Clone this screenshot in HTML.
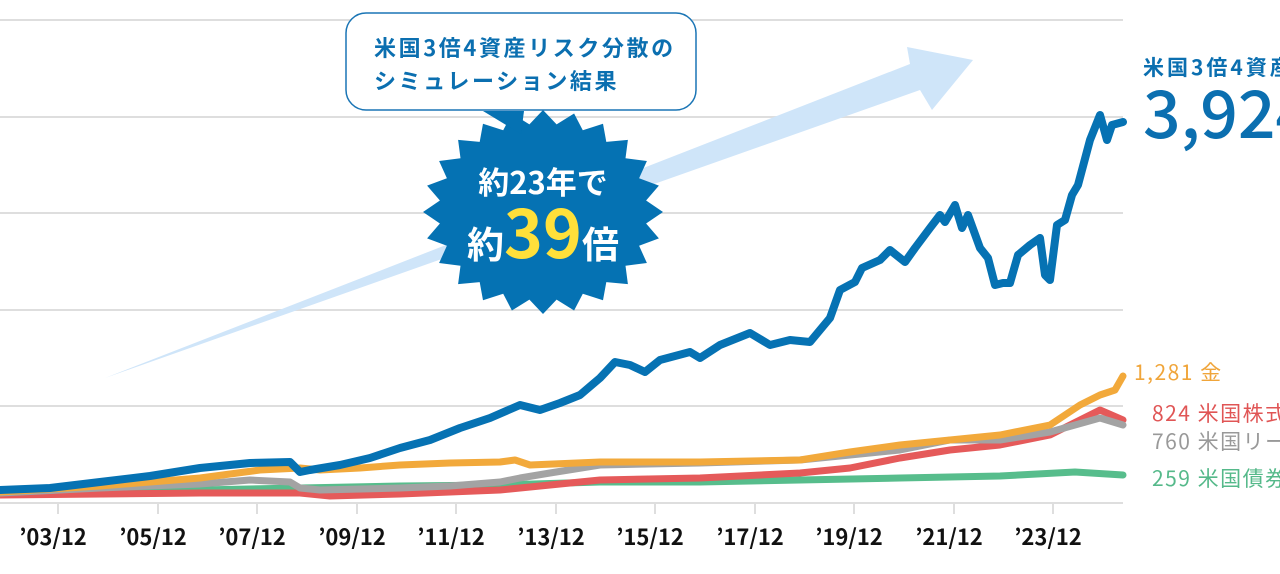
<!DOCTYPE html>
<html><head><meta charset="utf-8"><style>
html,body{margin:0;padding:0;width:1280px;height:574px;overflow:hidden;background:#fff;}
svg{display:block;font-family:"Noto Sans CJK JP","Liberation Sans",sans-serif;}
</style></head><body>
<svg width="1280" height="574" viewBox="0 0 1280 574" xmlns="http://www.w3.org/2000/svg">
<g stroke="#dedede" stroke-width="2">
<line x1="0" y1="20" x2="1123" y2="20"/><line x1="0" y1="117" x2="1123" y2="117"/>
<line x1="0" y1="213" x2="1123" y2="213"/><line x1="0" y1="310" x2="1123" y2="310"/>
<line x1="0" y1="406" x2="1123" y2="406"/><line x1="0" y1="503" x2="1123" y2="503"/>
<line x1="58" y1="503" x2="58" y2="514"/><line x1="158" y1="503" x2="158" y2="514"/>
<line x1="257" y1="503" x2="257" y2="514"/><line x1="357" y1="503" x2="357" y2="514"/>
<line x1="456" y1="503" x2="456" y2="514"/><line x1="556" y1="503" x2="556" y2="514"/>
<line x1="655" y1="503" x2="655" y2="514"/><line x1="755" y1="503" x2="755" y2="514"/>
<line x1="854" y1="503" x2="854" y2="514"/><line x1="954" y1="503" x2="954" y2="514"/>
<line x1="1053" y1="503" x2="1053" y2="514"/>
</g>
<g font-size="22" font-weight="bold" fill="#111" text-anchor="middle">
<text x="53" y="545">’03/12</text><text x="153" y="545">’05/12</text><text x="252" y="545">’07/12</text>
<text x="352" y="545">’09/12</text><text x="451" y="545">’11/12</text><text x="551" y="545">’13/12</text>
<text x="650" y="545">’15/12</text><text x="750" y="545">’17/12</text><text x="849" y="545">’19/12</text>
<text x="949" y="545">’21/12</text><text x="1048" y="545">’23/12</text>
</g>
<polygon points="105,378 910,64 907,47 973,60 932,110 920,90" fill="#cfe5f9"/>
<g fill="none" stroke-linejoin="round" stroke-linecap="round">
<polyline stroke="#57bd8c" stroke-width="7" points="0,492 200,490 300,488 400,486 500,485 600,482 700,482 800,480 900,478 1000,476 1075,472 1123,475"/>
<polyline stroke="#e55a5a" stroke-width="7" points="0,495 200,493 300,493 330,496 400,494 500,490 600,480 700,478 800,473 850,468 900,458 950,450 1000,445 1050,435 1080,420 1100,410 1123,420"/>
<polyline stroke="#a3a3a3" stroke-width="7" points="0,493 100,488 200,484 250,480 290,482 300,488 320,490 400,488 450,486 500,482 520,478 550,473 600,465 700,463 800,460 850,455 900,450 950,440 1000,440 1050,432 1100,418 1123,425"/>
<polyline stroke="#f2a93b" stroke-width="7" points="0,492 100,486 200,478 260,470 300,468 320,470 360,468 400,465 450,463 500,462 515,460 530,465 600,462 700,462 800,460 850,452 900,445 950,440 1000,435 1050,425 1080,405 1100,395 1115,390 1123,376"/>
<polyline stroke="#0672b3" stroke-width="8" points="0,490 50,488 100,482 150,476 200,468 250,463 290,462 300,472 310,470 340,465 370,458 400,448 430,440 460,428 490,418 520,405 540,410 560,403 580,395 600,378 615,362 630,365 645,372 660,360 690,352 700,358 720,345 750,333 770,345 790,340 810,342 830,318 840,290 855,282 862,268 880,260 890,250 905,262 915,248 930,228 940,215 945,222 955,205 962,228 968,215 980,248 988,258 995,285 1003,283 1010,283 1018,255 1030,245 1040,238 1045,275 1050,280 1057,225 1065,220 1072,195 1078,185 1090,140 1100,115 1107,140 1112,125 1123,122"/>
</g>
<polygon fill="#0572b3" points="543,110 556.6,124.4 574.1,113.5 582.8,130.3 603,123.7 606.3,141.9 627.9,139.9 625.5,158.2 646.9,161 639.1,178.2 658.9,185.6 646.1,200.5 663,212 646.1,223.5 658.9,238.4 639.1,245.8 646.9,263 625.5,265.8 627.9,284.1 606.3,282.1 603,300.3 582.8,293.7 574.1,310.5 556.6,299.6 543,314 529.4,299.6 511.9,310.5 503.2,293.7 483,300.3 479.7,282.1 458.1,284.1 460.5,265.8 439.1,263 446.9,245.8 427.1,238.4 439.9,223.5 423,212 439.9,200.5 427.1,185.6 446.9,178.2 439.1,161 460.5,158.2 458.1,139.9 479.7,141.9 483,123.7 503.2,130.3 511.9,113.5 529.4,124.4"/>
<rect x="346" y="13" width="350" height="97" rx="20" fill="#fff" stroke="#1a75b5" stroke-width="1.5"/>
<polygon points="483,111 524,111 521,134" fill="#0572b3"/>
<text x="374" y="56" font-size="22" font-weight="bold" fill="#0b6fb0" letter-spacing="2.6">米国3倍4資産リスク分散の</text>
<text x="374" y="89" font-size="22" font-weight="bold" fill="#0b6fb0" letter-spacing="2.6">シミュレーション結果</text>
<text x="543" y="194" font-size="31" font-weight="bold" fill="#fff" text-anchor="middle">約23年で</text>
<text x="543" y="258" text-anchor="middle" font-weight="bold" fill="#fff"><tspan font-size="37">約</tspan><tspan font-size="66" fill="#ffe03a">39</tspan><tspan font-size="37">倍</tspan></text>
<text x="1143" y="75" font-size="21" font-weight="bold" fill="#0b6fb0" letter-spacing="3">米国3倍4資産</text>
<text x="1143" y="138" font-size="66" font-weight="500" fill="#0b6fb0">3,924</text>
<text x="1134" y="380" font-size="21" fill="#f0a53a" letter-spacing="1.5">1,281 金</text>
<text x="1152" y="421" font-size="21" fill="#e05555" letter-spacing="1.5">824 米国株式</text>
<text x="1152" y="449" font-size="21" fill="#999" letter-spacing="1.5">760 米国リート</text>
<text x="1152" y="486" font-size="21" fill="#55b98a" letter-spacing="1.5">259 米国債券</text>
</svg>
</body></html>
